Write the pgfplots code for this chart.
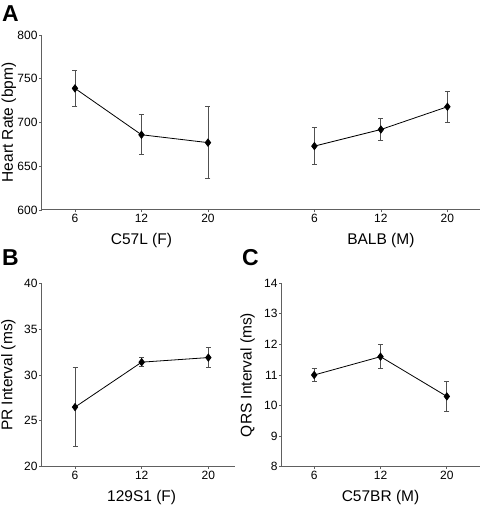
\documentclass[border=0pt]{standalone}
\usepackage{fontspec}
\setmainfont{Liberation Sans}
\usepackage{pgfplots}
\pgfplotsset{compat=1.18}
\definecolor{axgray}{HTML}{606060}
\definecolor{ebgray}{HTML}{505050}
\pgfplotsset{
  myaxis/.style={
    scale only axis,
    axis x line*=bottom,
    axis y line*=left,
    axis line style={axgray, line width=1pt},
    tick style={axgray, line width=0.8pt},
    major tick length=2.5pt,
    tick align=outside,
    every tick label/.append style={font=\fontsize{12}{14}\selectfont, inner sep=1.5pt},
    /pgf/number format/assume math mode=true,
    ylabel style={font=\fontsize{15.5}{18}\selectfont},
    xtick=data,
    enlargelimits=false,
    clip=false,
  },
  myplot/.style={
    black, line width=0.8pt,
    mark=diamond*, mark size=3.6pt, mark options={solid, fill=black},
    error bars/.cd, y dir=both, y explicit,
    error bar style={ebgray, line width=0.9pt},
    error mark options={ebgray, rotate=90, mark size=2.5pt, line width=0.9pt},
  },
}
\begin{document}
\begin{tikzpicture}[x=1pt,y=1pt]
% Panel A
\begin{axis}[myaxis,
  at={(41.7pt,296pt)}, anchor=south west,
  width=438.3pt, height=175pt,
  xmin=-0.5, xmax=6.09, ymin=600, ymax=800,
  ytick={600,650,700,750,800},
  xtick={0,1,2,3.6,4.6,5.6},
  xticklabels={6,12,20,6,12,20},
  ylabel={Heart Rate (bpm)},
  ylabel style={at={(axis description cs:-0.075,0.5)}, anchor=center},
]
\addplot+[myplot] coordinates {
  (0,739) +- (0,21)
  (1,686) +- (0,23)
  (2,677) +- (0,41)
};
\addplot+[myplot] coordinates {
  (3.6,673) +- (0,21)
  (4.6,692) +- (0,13)
  (5.6,718) +- (0,18)
};
\node[font=\fontsize{15.5}{18}\selectfont] at (axis cs:1,600) [yshift=-30pt] {C57L (F)};
\node[font=\fontsize{15.5}{18}\selectfont] at (axis cs:4.6,600) [yshift=-30pt] {BALB (M)};
\end{axis}
% Panel B
\begin{axis}[myaxis,
  at={(41.7pt,39.3pt)}, anchor=south west,
  width=193.3pt, height=183.4pt,
  xmin=-0.5, xmax=2.4, ymin=20, ymax=40,
  ytick={20,25,30,35,40},
  xtick={0,1,2},
  xticklabels={6,12,20},
  ylabel={PR Interval (ms)},
  ylabel style={at={(axis description cs:-0.173,0.5)}, anchor=center},
]
\addplot+[myplot] coordinates {
  (0,26.5) +- (0,4.3)
  (1,31.4) +- (0,0.5)
  (2,31.9) +- (0,1.1)
};
\node[font=\fontsize{15.5}{18}\selectfont] at (axis cs:1,20) [yshift=-31pt] {129S1 (F)};
\end{axis}
% Panel C
\begin{axis}[myaxis,
  at={(281.7pt,39.3pt)}, anchor=south west,
  width=198.3pt, height=183.4pt,
  xmin=-0.49, xmax=2.5, ymin=8, ymax=14,
  ytick={8,9,10,11,12,13,14},
  xtick={0,1,2},
  xticklabels={6,12,20},
  ylabel={QRS Interval (ms)},
  ylabel style={at={(axis description cs:-0.172,0.5)}, anchor=center},
]
\addplot+[myplot] coordinates {
  (0,11.0) +- (0,0.2)
  (1,11.6) +- (0,0.4)
  (2,10.3) +- (0,0.5)
};
\node[font=\fontsize{15.5}{18}\selectfont] at (axis cs:1,8) [yshift=-31pt] {C57BR (M)};
\end{axis}
% Panel letters
\node[font=\fontsize{23}{25}\bfseries\selectfont, anchor=north west, inner sep=0pt] at (2pt,501pt) {A};
\node[font=\fontsize{23}{25}\bfseries\selectfont, anchor=north west, inner sep=0pt] at (2pt,257pt) {B};
\node[font=\fontsize{23}{25}\bfseries\selectfont, anchor=north west, inner sep=0pt] at (242pt,257pt) {C};
\pgfresetboundingbox
\useasboundingbox (0,0) rectangle (482pt,506pt);
\end{tikzpicture}
\end{document}
